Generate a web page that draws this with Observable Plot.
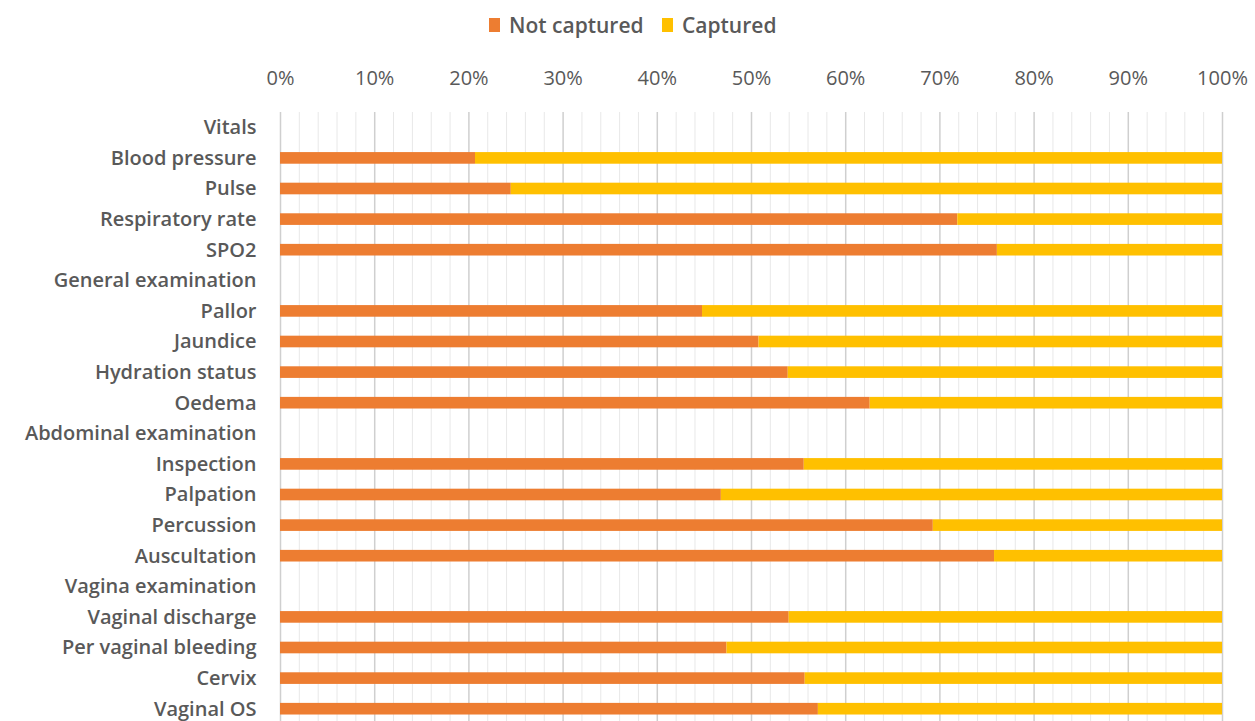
<!DOCTYPE html>
<html><head><meta charset="utf-8">
<script src="https://cdn.jsdelivr.net/npm/d3@7"></script>
<script src="https://cdn.jsdelivr.net/npm/@observablehq/plot@0.6"></script>
<style>
html,body{margin:0;padding:0;background:#fff;overflow:hidden}
body{font-family:"Open Sans",Lato,sans-serif;width:1255px;height:721px}
#legend{position:relative;height:50px;width:1255px}
.lg{position:absolute;top:12px;display:flex;align-items:center;font-size:21px;color:#595959;line-height:26px;font-weight:600}
.sw{display:inline-block;width:11px;height:14px;margin-right:9px}
#chart svg{display:block}
</style></head><body>
<div id="legend"></div>
<div id="chart"></div>
<script>
const items = ["Vitals","Blood pressure","Pulse","Respiratory rate","SPO2","General examination","Pallor","Jaundice","Hydration status","Oedema","Abdominal examination","Inspection","Palpation","Percussion","Auscultation","Vagina examination","Vaginal discharge","Per vaginal bleeding","Cervix","Vaginal OS"];
const notCaptured = [null,20.7,24.5,71.9,76.1,null,44.8,50.8,53.9,62.6,null,55.6,46.8,69.3,75.8,null,54.0,47.4,55.7,57.1];
const captured =    [null,79.3,75.5,28.1,23.9,null,55.2,49.2,46.1,37.4,null,44.4,53.2,30.7,24.2,null,46.0,52.6,44.3,42.9];
const seriesNames = ["Not captured","Captured"];
const seriesColors = ["#ED7D31","#FFC000"];
const majorTicks = [0,10,20,30,40,50,60,70,80,90,100];
const minorTicks = [2,4,6,8,12,14,16,18,22,24,26,28,32,34,36,38,42,44,46,48,52,54,56,58,62,64,66,68,72,74,76,78,82,84,86,88,92,94,96,98];

const rows = [];
items.forEach((it,i)=>{
  if (notCaptured[i]!=null) rows.push({item:it,status:seriesNames[0],value:notCaptured[i]});
});
items.forEach((it,i)=>{
  if (captured[i]!=null) rows.push({item:it,status:seriesNames[1],value:captured[i]});
});

// legend
const lefts = [489, 662];
const legend = document.getElementById("legend");
seriesNames.forEach((s,i)=>{
  const d = document.createElement("div");
  d.className="lg"; d.style.left = lefts[i]+"px";
  d.innerHTML = `<span class="sw" style="background:${seriesColors[i]}"></span><span>${s}</span>`;
  legend.appendChild(d);
});

const chart = Plot.plot({
  width:1255, height:674,
  marginLeft:280, marginRight:33, marginTop:62, marginBottom:0,
  x:{domain:[0,100], label:null},
  y:{domain:items, paddingInner:0.62, paddingOuter:0.31, round:false, label:null},
  color:{domain:seriesNames, range:seriesColors},
  style:{fontFamily:"'Open Sans', Lato, sans-serif", color:"#595959", fontSize:"20px", background:"white", overflow:"visible"},
  marks:[
    Plot.ruleX(minorTicks,{stroke:"#e8e8e8",strokeWidth:1}),
    Plot.ruleX(majorTicks,{stroke:"#cfcfcf",strokeWidth:1.5}),
    Plot.barX(rows,{x:"value",y:"item",fill:"status"}),
    Plot.axisX({anchor:"top",ticks:majorTicks,tickFormat:d=>d+"%",tickSize:0,tickPadding:28,fontSize:20,label:null}),
    Plot.axisY({tickSize:0,tickPadding:24,fontSize:20,fontWeight:600,label:null})
  ]
});
document.getElementById("chart").appendChild(chart);
</script>
</body></html>
